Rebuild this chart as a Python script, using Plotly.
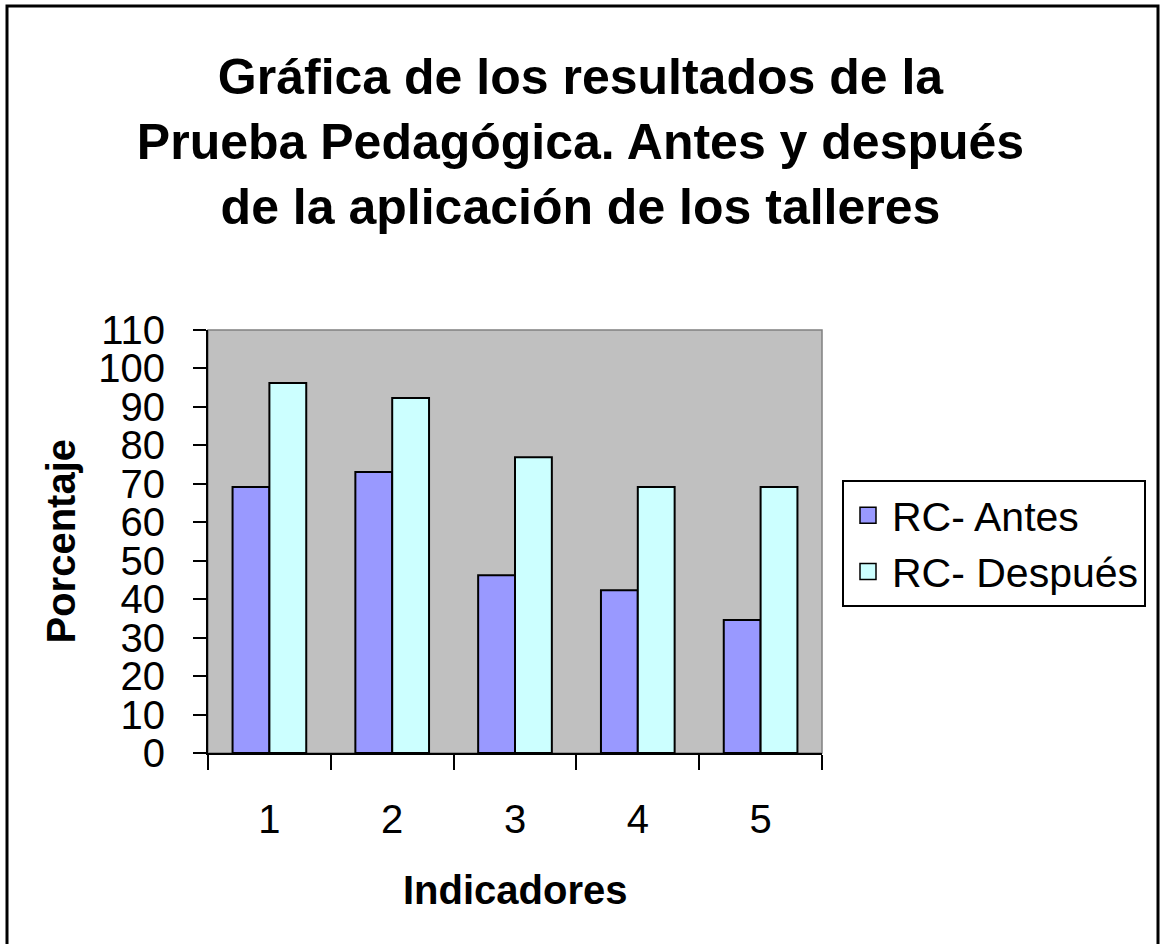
import plotly.graph_objects as go

categorias = ["1", "2", "3", "4", "5"]
antes = [69.2, 73.1, 46.2, 42.3, 34.6]
despues = [96.2, 92.3, 76.9, 69.2, 69.2]
serie_antes = "RC- Antes"
serie_despues = "RC- Después"
y_ticks = list(range(0, 111, 10))

FONT = "Arial, Liberation Sans, sans-serif"
C_ANTES = "#9999FF"
C_DESPUES = "#CCFFFF"

fig = go.Figure()
fig.add_trace(go.Bar(x=categorias, y=antes, name=serie_antes, showlegend=False,
                     marker=dict(color=C_ANTES, line=dict(color="black", width=2))))
fig.add_trace(go.Bar(x=categorias, y=despues, name=serie_despues, showlegend=False,
                     marker=dict(color=C_DESPUES, line=dict(color="black", width=2))))
# legend entries with larger square swatches
for nm, col in [(serie_antes, C_ANTES), (serie_despues, C_DESPUES)]:
    fig.add_trace(go.Scatter(x=[None], y=[None], mode="markers", name=nm,
                             marker=dict(symbol="square", size=20, color=col,
                                         line=dict(color="black", width=1.5))))

L, R, T, B = 208, 822, 330, 753
W, H = 1161, 944
pw, ph = R - L, B - T

def px(x):
    return (x - L) / pw

def py(y):
    return (B - y) / ph

fig.update_layout(
    width=W, height=H,
    margin=dict(l=L, r=W - R, t=T, b=H - B, pad=0),
    paper_bgcolor="white",
    plot_bgcolor="#C0C0C0",
    barmode="group",
    bargap=0.4,
    bargroupgap=0,
    font=dict(family=FONT, color="black", size=40),
    title=dict(
        text="Gráfica de los resultados de la<br>Prueba Pedagógica. Antes y después<br>de la aplicación de los talleres",
        font=dict(family=FONT, size=50, color="black", weight="bold"),
        x=0.5, xanchor="center", y=1 - 94 / H, yanchor="top",
    ),
    legend=dict(
        x=px(842), y=py(480), xanchor="left", yanchor="top",
        bgcolor="white", bordercolor="black", borderwidth=2,
        font=dict(family=FONT, size=41, color="black"),
        tracegroupgap=0, itemwidth=38,
    ),
    showlegend=True,
)

fig.update_xaxes(
    type="category",
    showgrid=False, zeroline=False,
    showline=True, linecolor="black", linewidth=2,
    ticks="outside", ticklen=15, tickwidth=2, tickcolor="black",
    tickson="boundaries",
    tickfont=dict(family=FONT, size=40, color="black"),
    ticklabelstandoff=30,
)
fig.update_yaxes(
    range=[0, 110],
    tickvals=y_ticks,
    showgrid=False, zeroline=False,
    showline=True, linecolor="black", linewidth=2,
    ticks="outside", ticklen=13, tickwidth=2, tickcolor="black",
    tickfont=dict(family=FONT, size=40, color="black"),
    ticklabelstandoff=20,
)

# plot area border (gray top/right)
fig.add_shape(type="rect", xref="paper", yref="paper", x0=0, x1=1, y0=0, y1=1,
              line=dict(color="#808080", width=1.5), layer="below")
# outer chart border
fig.add_shape(type="rect", xref="paper", yref="paper",
              x0=px(7), x1=px(1158), y0=py(960), y1=py(6),
              line=dict(color="black", width=3))

fig.add_annotation(text="<b>Porcentaje</b>", xref="paper", yref="paper",
                   x=px(60), y=0.5, textangle=-90, showarrow=False,
                   font=dict(family=FONT, size=40, color="black"),
                   xanchor="center", yanchor="middle")
fig.add_annotation(text="<b>Indicadores</b>", xref="paper", yref="paper",
                   x=0.5, y=py(890), showarrow=False,
                   font=dict(family=FONT, size=40, color="black"),
                   xanchor="center", yanchor="middle")

fig.write_html("out.html", config={"displayModeBar": False},
               post_script="document.body.style.margin='0';document.body.style.overflow='hidden';")
